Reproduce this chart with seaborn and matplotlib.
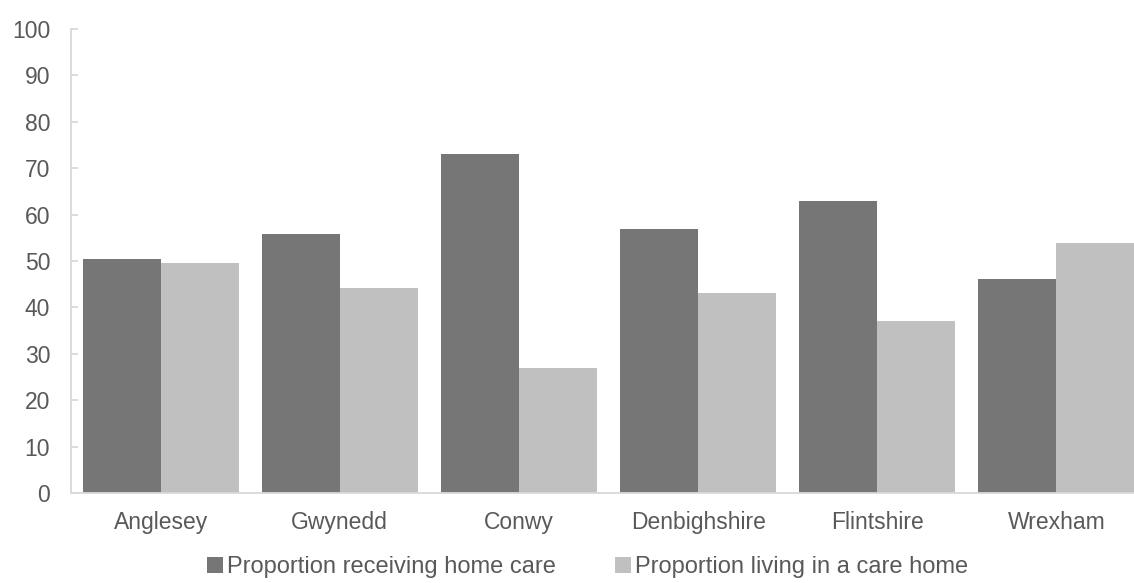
import pandas as pd
import matplotlib
matplotlib.use('Agg')
import matplotlib.pyplot as plt
import seaborn as sns
from matplotlib.patches import Patch

# 데이터
areas = ['Anglesey', 'Gwynedd', 'Conwy', 'Denbighshire', 'Flintshire', 'Wrexham']
home_care = [50.5, 55.8, 73.1, 57.0, 62.9, 46.2]
care_home = [49.5, 44.2, 26.9, 43.0, 37.1, 53.8]
series_names = ['Proportion receiving home care', 'Proportion living in a care home']
y_ticks = [0, 10, 20, 30, 40, 50, 60, 70, 80, 90, 100]

colors = ['#767676', '#c0c0c0']
text_color = '#595959'

df = pd.DataFrame({
    'area': areas * 2,
    'value': home_care + care_home,
    'series': [series_names[0]] * len(areas) + [series_names[1]] * len(areas),
})

sns.set_theme(style='white')
plt.rcParams['font.family'] = ['Liberation Sans', 'DejaVu Sans']

fig = plt.figure(figsize=(11.34, 5.83), dpi=100)
ax = fig.add_axes([71 / 1134, 90 / 583, 1075 / 1134, 464 / 583])

sns.barplot(data=df, x='area', y='value', hue='series', hue_order=series_names,
            order=areas, palette=colors, width=0.87, saturation=1,
            edgecolor='none', linewidth=0, ax=ax, legend=False)

ax.set_xlim(-0.5, len(areas) - 0.5)
ax.set_ylim(0, 100)
ax.set_yticks(y_ticks)
ax.set_xlabel('')
ax.set_ylabel('')

for side in ['top', 'right']:
    ax.spines[side].set_visible(False)
for side in ['left', 'bottom']:
    ax.spines[side].set_color('#d9d9d9')
    ax.spines[side].set_linewidth(1.3)

ax.tick_params(axis='y', direction='in', length=5, width=1.3, color='#d9d9d9',
               labelsize=16.5, labelcolor=text_color, pad=15, left=True)
ax.tick_params(axis='x', length=0, labelsize=16.5, labelcolor=text_color, pad=13)

handles = [Patch(facecolor=c, edgecolor='none') for c in colors]
fig.legend(handles, series_names, loc='lower center', bbox_to_anchor=(0.518, -0.028),
           ncol=2, frameon=False, fontsize=17, labelcolor=text_color,
           handlelength=0.7, handleheight=0.7, handletextpad=0.15, columnspacing=2.5)

fig.savefig('out.png', dpi=100, facecolor='white')
